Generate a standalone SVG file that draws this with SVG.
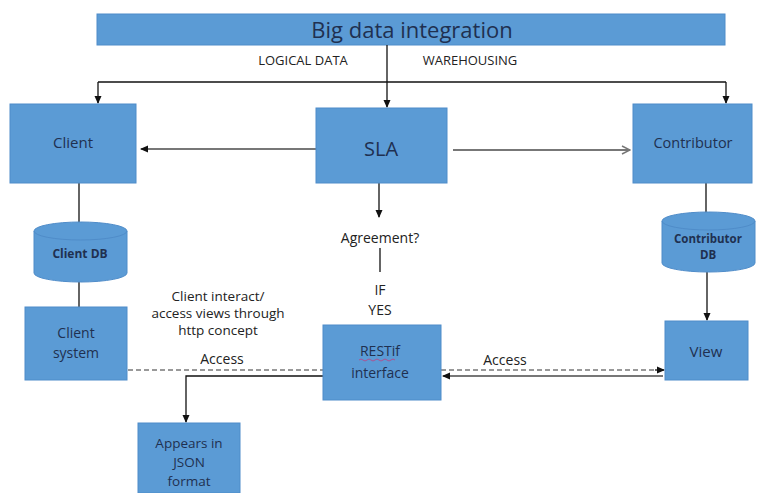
<svg xmlns="http://www.w3.org/2000/svg" width="757" height="493" viewBox="0 0 757 493">
<style>
.box{fill:#5b9bd5;stroke:#4f8cc9;stroke-width:1}
.t{font-family:"Open Sans","Liberation Sans",sans-serif;fill:#1f3050;text-anchor:middle}
.lbl{font-family:"Open Sans","Liberation Sans",sans-serif;fill:#222;text-anchor:middle}
.ln{stroke:#111;stroke-width:1.3;fill:none}
.gr{stroke:#777;stroke-width:2;fill:none}
.dash{stroke:#999;stroke-width:2;stroke-dasharray:5 3;fill:none}
</style>
<defs>
<marker id="ah" markerWidth="8" markerHeight="8" refX="7" refY="4" orient="auto" markerUnits="userSpaceOnUse"><path d="M0,0.5 L8,4 L0,7.5 Z" fill="#111"/></marker>
<marker id="open" markerWidth="10" markerHeight="10" refX="9" refY="5" orient="auto" markerUnits="userSpaceOnUse"><path d="M1,1 L9,5 L1,9" fill="none" stroke="#777" stroke-width="1.5"/></marker>
</defs>
<rect width="757" height="493" fill="#fff"/>
<g id="banner">
<rect class="box" x="97" y="14" width="628" height="31"/>
<text class="t" x="412" y="38" font-size="22">Big data integration</text>
</g>
<g id="labels">
<text class="lbl" x="303" y="65" font-size="13">LOGICAL DATA</text>
<text class="lbl" x="470" y="65" font-size="13">WAREHOUSING</text>
<text class="lbl" x="380" y="243" font-size="14">Agreement?</text>
<text class="lbl" x="380" y="295" font-size="14">IF</text>
<text class="lbl" x="380" y="315" font-size="14">YES</text>
<text class="lbl" x="218" y="301" font-size="13.5">Client interact/</text>
<text class="lbl" x="218" y="318" font-size="13.5">access views through</text>
<text class="lbl" x="218" y="335" font-size="13.5">http concept</text>
<text class="lbl" x="222" y="364" font-size="14">Access</text>
<text class="lbl" x="505" y="365" font-size="14">Access</text>
</g>
<g id="connectors">
<path class="ln" d="M387,45 V82"/>
<path class="ln" d="M98,82 H726"/>
<path class="ln" d="M98,82 V103" marker-end="url(#ah)"/>
<path class="ln" d="M387,82 V107" marker-end="url(#ah)"/>
<path class="ln" d="M726,82 V103" marker-end="url(#ah)"/>
<path class="gr" d="M316,149 H141" marker-end="url(#ah)"/>
<path class="gr" d="M453,150 H630" marker-end="url(#open)"/>
<path class="ln" d="M79,183 V224"/>
<path class="ln" d="M79,282 V307"/>
<path class="ln" d="M706,183 V214"/>
<path class="ln" d="M707,272 V320" marker-end="url(#ah)"/>
<path class="ln" d="M379,183 V217" marker-end="url(#ah)"/>
<path class="ln" d="M380,248 V272"/>
<path class="dash" d="M128,370 H323"/>
<path class="ln" d="M323,376 H186 V422" marker-end="url(#ah)"/>
<path class="dash" d="M441,370 H663"/>
<path class="ln" d="M655,370 H664" marker-end="url(#ah)"/>
<path class="gr" d="M663,376 H443" marker-end="url(#ah)"/>
</g>
<g id="client">
<rect class="box" x="10" y="104" width="126" height="79"/>
<text class="t" x="73" y="148" font-size="15">Client</text>
</g>
<g id="sla">
<rect class="box" x="316" y="108" width="131" height="75"/>
<text class="t" x="381" y="156" font-size="20">SLA</text>
</g>
<g id="contributor">
<rect class="box" x="633" y="104" width="119" height="79"/>
<text class="t" x="693" y="148" font-size="14.5">Contributor</text>
</g>
<g id="clientdb">
<path class="box" d="M34,231 A46.5,9 0 0 1 127,231 V273 A46.5,9 0 0 1 34,273 Z"/>
<path d="M34,231 A46.5,9 0 0 0 127,231" fill="none" stroke="#4f8cc9"/>
<text class="t" x="80" y="258" font-size="12" font-weight="bold">Client DB</text>
</g>
<g id="contributordb">
<path class="box" d="M662,221 A46.5,9 0 0 1 755,221 V263 A46.5,9 0 0 1 662,263 Z"/>
<path d="M662,221 A46.5,9 0 0 0 755,221" fill="none" stroke="#4f8cc9"/>
<text class="t" x="708" y="243" font-size="11.5" font-weight="bold">Contributor</text>
<text class="t" x="708" y="259" font-size="11.5" font-weight="bold">DB</text>
</g>
<g id="clientsystem">
<rect class="box" x="25" y="307" width="102" height="73"/>
<text class="t" x="76" y="338" font-size="14">Client</text>
<text class="t" x="76" y="358" font-size="14">system</text>
</g>
<g id="restif">
<rect class="box" x="323" y="325" width="118" height="75"/>
<text class="t" x="380" y="356" font-size="14">RESTif</text>
<path d="M359,360 q2,-2 4,0 t4,0 t4,0 t4,0 t4,0 t4,0 t4,0 t4,0 t4,0" fill="none" stroke="#c04080" stroke-width="0.8"/>
<text class="t" x="380" y="378" font-size="14">interface</text>
</g>
<g id="view">
<rect class="box" x="665" y="321" width="83" height="59"/>
<text class="t" x="706" y="357" font-size="15">View</text>
</g>
<g id="json">
<rect class="box" x="138" y="423" width="102" height="70"/>
<text class="t" x="189" y="448" font-size="13.5">Appears in</text>
<text class="t" x="189" y="467" font-size="13.5">JSON</text>
<text class="t" x="189" y="486" font-size="13.5">format</text>
</g>
</svg>
